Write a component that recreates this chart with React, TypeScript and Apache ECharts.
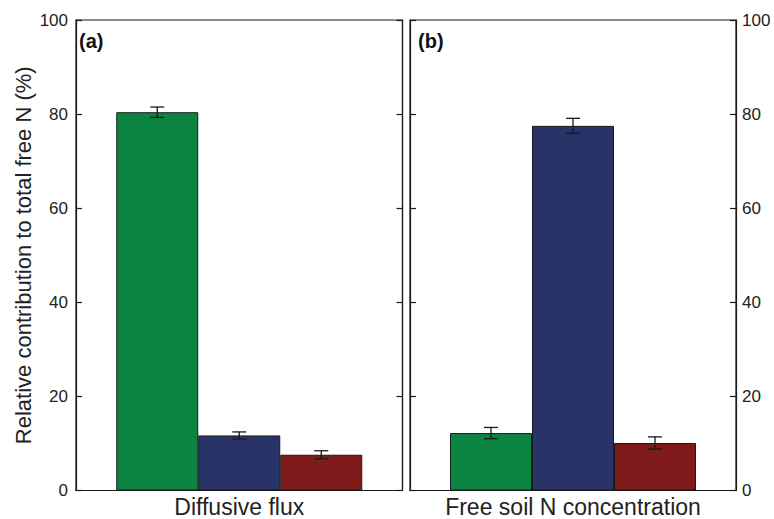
import React, { useEffect, useRef } from "react";
import * as echarts from "echarts";

const seriesNames = ["Component A", "Component B", "Component C"];
const seriesColors = ["#0a8440", "#283367", "#7e1a1a"];
const panelACategory = ["Diffusive flux"];
const panelBCategory = ["Free soil N concentration"];
const panelAValues = [80.4, 11.7, 7.6];
const panelAErrors = [1.1, 0.75, 0.85];
const panelBValues = [12.2, 77.5, 10.1];
const panelBErrors = [1.2, 1.6, 1.3];
const yMin = 0;
const yMax = 100;
const yInterval = 20;
const yTitle = "Relative contribution to total free N (%)";
const panelLabels = ["(a)", "(b)"];

const FONT = "'Liberation Sans', Arial, sans-serif";
const BAR_W = 82;
const INK = "#1a1a1a";

export default function App() {
  const ref = useRef<HTMLDivElement>(null);
  useEffect(() => {
    document.body.style.margin = "0";
    if (!ref.current) return;
    const chart = echarts.init(ref.current, undefined, { renderer: "svg" });

    const gridCommon = {
      top: 20,
      height: 470.5,
      show: true,
      borderColor: INK,
      borderWidth: 1.2,
      backgroundColor: "transparent",
      containLabel: false,
    };

    const xAxisCommon = {
      type: "category" as const,
      axisTick: { show: false },
      axisLine: { lineStyle: { color: INK, width: 1.2 } },
      axisLabel: { fontSize: 23, color: "#222", margin: 5, fontFamily: FONT },
      splitLine: { show: false },
    };

    const yAxisCommon = {
      type: "value" as const,
      min: yMin,
      max: yMax,
      interval: yInterval,
      splitLine: { show: false },
      axisLine: { show: true, lineStyle: { color: INK, width: 1.2 } },
      axisTick: { show: true, inside: true, length: 6, lineStyle: { color: INK, width: 1.2 } },
    };

    const errorRender = (params: any, api: any) => {
      const cat = api.value(0);
      const xc = api.coord([cat, 0])[0] + (api.value(3) - 1) * BAR_W;
      const yLow = api.coord([cat, api.value(1)])[1];
      const yHigh = api.coord([cat, api.value(2)])[1];
      const half = 7;
      const style = { stroke: INK, lineWidth: 1.3 };
      return {
        type: "group",
        children: [
          { type: "line", shape: { x1: xc, y1: yLow, x2: xc, y2: yHigh }, style },
          { type: "line", shape: { x1: xc - half, y1: yHigh, x2: xc + half, y2: yHigh }, style },
          { type: "line", shape: { x1: xc - half, y1: yLow, x2: xc + half, y2: yLow }, style },
        ],
      };
    };

    const makeBars = (values: number[], xIdx: number, yIdx: number) =>
      values.map((v, i) => ({
        name: seriesNames[i],
        type: "bar",
        xAxisIndex: xIdx,
        yAxisIndex: yIdx,
        data: [v],
        barWidth: BAR_W,
        barGap: "0%",
        itemStyle: { color: seriesColors[i], borderColor: INK, borderWidth: 1 },
        z: 2,
      }));

    const makeErrors = (values: number[], errors: number[], xIdx: number, yIdx: number) => ({
      type: "custom",
      xAxisIndex: xIdx,
      yAxisIndex: yIdx,
      renderItem: errorRender,
      encode: { x: 0, y: [1, 2] },
      data: values.map((v, i) => [0, v - errors[i], v + errors[i], i]),
      z: 5,
    });

    chart.setOption({
      animation: false,
      backgroundColor: "#ffffff",
      textStyle: { fontFamily: FONT },
      grid: [
        { ...gridCommon, left: 76, width: 326.5 },
        { ...gridCommon, left: 410, width: 326 },
      ],
      xAxis: [
        { ...xAxisCommon, gridIndex: 0, data: panelACategory },
        { ...xAxisCommon, gridIndex: 1, data: panelBCategory },
      ],
      yAxis: [
        {
          ...yAxisCommon,
          gridIndex: 0,
          position: "left",
          axisLabel: { fontSize: 17, color: "#222", margin: 8, fontFamily: FONT },
          name: yTitle,
          nameLocation: "middle",
          nameGap: 42,
          nameTextStyle: { fontSize: 22, color: "#222", fontFamily: FONT },
        },
        { ...yAxisCommon, gridIndex: 0, position: "right", axisLabel: { show: false } },
        { ...yAxisCommon, gridIndex: 1, position: "left", axisLabel: { show: false } },
        {
          ...yAxisCommon,
          gridIndex: 1,
          position: "right",
          axisLabel: { fontSize: 17, color: "#222", margin: 6, fontFamily: FONT },
        },
      ],
      graphic: [
        {
          type: "text",
          left: 79,
          top: 31,
          style: { text: panelLabels[0], font: `bold 20px ${FONT}`, fill: "#111" },
        },
        {
          type: "text",
          left: 418,
          top: 31,
          style: { text: panelLabels[1], font: `bold 20px ${FONT}`, fill: "#111" },
        },
      ],
      series: [
        ...makeBars(panelAValues, 0, 0),
        makeErrors(panelAValues, panelAErrors, 0, 0),
        ...makeBars(panelBValues, 1, 3),
        makeErrors(panelBValues, panelBErrors, 1, 3),
      ],
    });
    return () => chart.dispose();
  }, []);
  return <div ref={ref} style={{ width: 774, height: 519 }} />;
}
